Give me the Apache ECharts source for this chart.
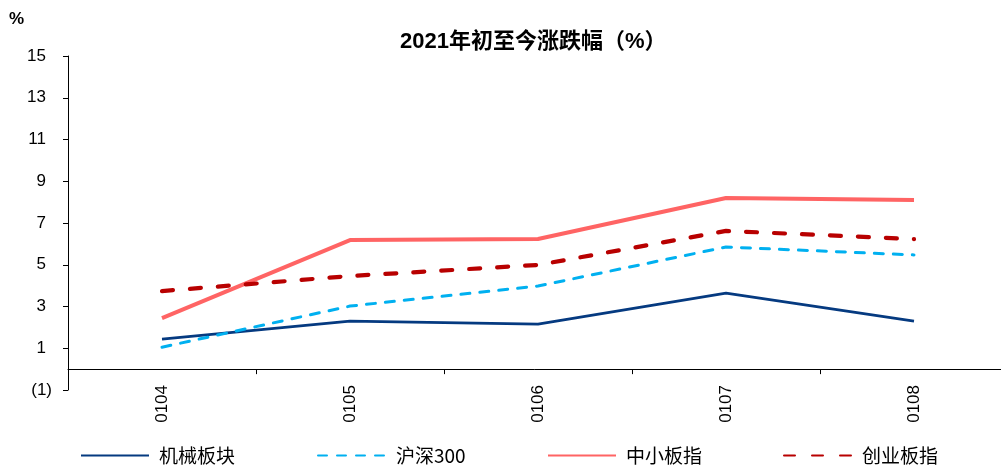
<!DOCTYPE html>
<html>
<head>
<meta charset="utf-8">
<script src="https://cdn.jsdelivr.net/npm/echarts@6/dist/echarts.min.js"></script>
<style>
html,body{margin:0;padding:0;background:#fff;}
#chart{width:1001px;height:467px;}
</style>
</head>
<body>
<div id="chart"></div>
<script>
// Trading days (MMDD) and cumulative change since start of 2021, %
const categories = ['0104', '0105', '0106', '0107', '0108'];
const machinery = [1.44, 2.30, 2.16, 3.64, 2.30];   // 机械板块
const hs300 = [1.05, 3.02, 3.98, 5.85, 5.47];       // 沪深300
const smeIndex = [2.44, 6.18, 6.23, 8.20, 8.10];    // 中小板指
const chinext = [3.74, 4.46, 4.99, 6.62, 6.23];     // 创业板指
const seriesNames = ['机械板块', '沪深300', '中小板指', '创业板指'];
const legendLefts = [80, 317, 547, 783];

const chart = echarts.init(document.getElementById('chart'));
const axisFont = 'Liberation Sans, Arial';

// one legend block per series so each entry sits at its own x position
const legends = seriesNames.map((n, i) => ({
  left: legendLefts[i],
  bottom: 0,
  itemWidth: 68,
  itemHeight: 14,
  itemGap: 0,
  padding: [0, 0, 2, 0],
  itemStyle: { opacity: 0 },
  textStyle: { color: '#000', fontSize: 19, fontFamily: 'Noto Sans CJK SC', padding: [0, 0, 0, 5] },
  data: [n]
}));

chart.setOption({
  backgroundColor: '#fff',
  animation: false,
  title: {
    text: '2021年初至今涨跌幅（%）',
    left: 395,
    top: 26,
    textStyle: { color: '#000', fontSize: 22, fontWeight: 'bold', fontFamily: 'Liberation Sans, Noto Sans CJK SC' }
  },
  legend: legends,
  // the plot runs slightly past the right edge of the canvas
  grid: { left: 68, width: 940, top: 56, bottom: 77, outerBoundsMode: 'none', containLabel: false },
  xAxis: {
    type: 'category',
    data: categories,
    boundaryGap: true,
    axisLine: { onZero: true, lineStyle: { color: '#000', width: 1 } },
    axisTick: { show: true, length: 5, lineStyle: { color: '#000' } },
    axisLabel: { rotate: 90, margin: -5, color: '#000', fontFamily: axisFont, fontSize: 17 }
  },
  yAxis: {
    type: 'value',
    min: -1,
    max: 15,
    interval: 2,
    name: '%',
    nameLocation: 'end',
    nameGap: 28,
    nameTextStyle: { color: '#000', fontSize: 17, fontWeight: 'bold', fontFamily: axisFont, align: 'left', padding: [0, 0, 0, -59] },
    splitLine: { show: false },
    axisLine: { show: true, lineStyle: { color: '#000', width: 1 } },
    axisTick: { show: true, length: 5, lineStyle: { color: '#000' } },
    axisLabel: {
      margin: 16,
      color: '#000',
      fontFamily: axisFont,
      fontSize: 17,
      // negatives in parentheses; positives leave room for the closing bracket
      formatter: v => (v < 0 ? '(' + Math.abs(v) + ')' : '{p|' + v + '}'),
      rich: { p: { color: '#000', fontFamily: axisFont, fontSize: 17, padding: [0, 6, 0, 0] } }
    }
  },
  series: [
    { name: seriesNames[0], type: 'line', data: machinery, symbol: 'none', color: '#053a80',
      lineStyle: { width: 2.8, type: 'solid' } },
    { name: seriesNames[1], type: 'line', data: hs300, symbol: 'none', color: '#00b0f0',
      lineStyle: { width: 3, type: [9, 10], cap: 'round' } },
    { name: seriesNames[2], type: 'line', data: smeIndex, symbol: 'none', color: '#ff6464',
      lineStyle: { width: 4, type: 'solid' } },
    { name: seriesNames[3], type: 'line', data: chinext, symbol: 'none', color: '#b80000',
      lineStyle: { width: 4.2, type: [11, 17], cap: 'round' } }
  ]
});
</script>
</body>
</html>
